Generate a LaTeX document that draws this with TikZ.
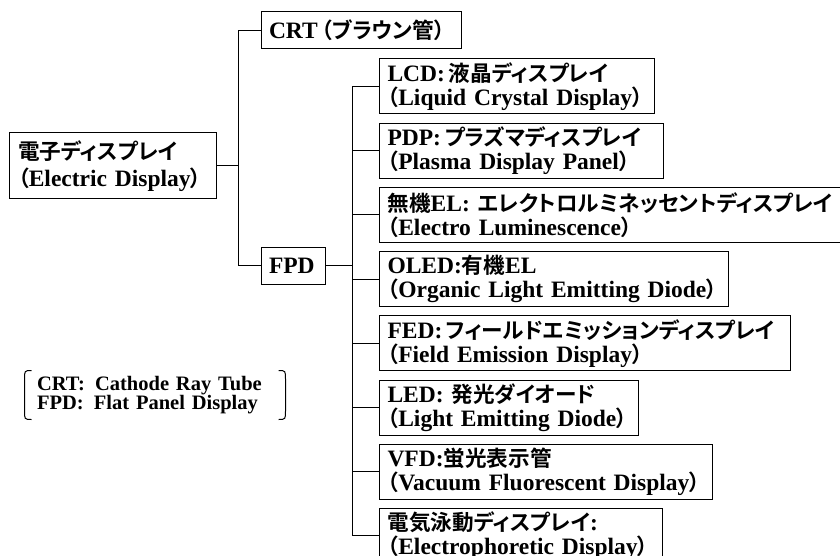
\documentclass[tikz,border=0pt]{standalone}
\usepackage{fontspec}
\setmainfont{Liberation Serif}
\newfontfamily\jpfont{Noto Sans CJK JP}[Scale=0.92, RawFeature=+palt, BoldFont={Noto Sans CJK JP Bold}]
\newcommand{\jtext}[1]{{\jpfont #1}}
\usetikzlibrary{positioning}

\begin{document}
\begin{tikzpicture}[x=1pt, y=-1pt, line width=1pt,
    box/.style={rectangle, draw, align=left, font=\bfseries\fontsize{23.5}{24}\selectfont, inner xsep=8pt, inner ysep=2pt},
    item/.style={box, minimum height=55pt},
    stub/.style={line width=1.8pt}]

    \useasboundingbox (0,0) rectangle (840,556);
    \clip (0,0) rectangle (840,556);

    \node[box, text width=189pt, inner xsep=9pt, minimum height=66pt, font=\bfseries\fontsize{23.5}{27}\selectfont] (root) at (112.5,166) {\jtext{電子ディスプレイ}\\\jtext{（}Electric Display\jtext{）}};
    \node[box, text width=184pt, minimum height=37pt] (crt) at (361,30.5) {CRT\,\jtext{（ブラウン管）}};
    \node[box, text width=48pt, minimum height=37pt] (fpd) at (293,265.5) {FPD};

    \node[item, anchor=north west, text width=259pt] (lcd) at (379,58.5) {LCD:\,\jtext{液晶ディスプレイ}\\\jtext{（}Liquid Crystal Display\jtext{）}};
    \node[item, below=8.2pt of lcd.south west, anchor=north west, text width=268pt] (pdp) {PDP:\,\jtext{プラズマディスプレイ}\\\jtext{（}Plasma Display Panel\jtext{）}};
    \node[item, below=8.2pt of pdp.south west, anchor=north west, text width=470pt] (inorg) {\jtext{無機}EL: \jtext{エレクトロルミネッセントディスプレイ}\\\jtext{（}Electro Luminescence\jtext{）}};
    \node[item, below=8.2pt of inorg.south west, anchor=north west, text width=333pt] (oled) {OLED:\jtext{有機}EL\\\jtext{（}Organic Light Emitting Diode\jtext{）}};
    \node[item, below=8.2pt of oled.south west, anchor=north west, text width=395pt] (fed) {FED:\,\jtext{フィールドエミッションディスプレイ}\\\jtext{（}Field Emission Display\jtext{）}};
    \node[item, below=8.2pt of fed.south west, anchor=north west, text width=243pt] (led) {LED: \jtext{発光ダイオード}\\\jtext{（}Light Emitting Diode\jtext{）}};
    \node[item, below=8.2pt of led.south west, anchor=north west, text width=317pt] (vfd) {VFD:\jtext{蛍光表示管}\\\jtext{（}Vacuum Fluorescent Display\jtext{）}};
    \node[item, below=8.2pt of vfd.south west, anchor=north west, text width=267pt] (epd) {\jtext{電気泳動ディスプレイ}:\\\jtext{（}Electrophoretic Display\jtext{）}};

    % legend in round brackets
    \node[align=left, font=\bfseries\fontsize{20.5}{18.5}\selectfont, text width=236pt, inner xsep=12pt, minimum height=48pt] (legend) at (155,395) {CRT:\enspace Cathode Ray Tube\\FPD:\enspace Flat Panel Display};
    \draw ([xshift=7pt]legend.north west) .. controls (legend.north west) .. ([yshift=-9pt]legend.north west) -- ([yshift=9pt]legend.south west) .. controls (legend.south west) .. ([xshift=7pt]legend.south west);
    \draw ([xshift=-7pt]legend.north east) .. controls (legend.north east) .. ([yshift=-9pt]legend.north east) -- ([yshift=9pt]legend.south east) .. controls (legend.south east) .. ([xshift=-7pt]legend.south east);

    % tree connectors
    \coordinate[right=22pt of root.east] (trunk);
    \draw (root.east) -- (trunk) |- (crt.west);
    \draw (trunk) |- (fpd.west);
    \coordinate[right=27pt of fpd.east] (bus);
    \draw[stub] (fpd.east) -- (bus);
    \foreach \n in {lcd,pdp,inorg,oled,fed,led,vfd,epd}
        \draw (bus) |- (\n.west);
\end{tikzpicture}
\end{document}
